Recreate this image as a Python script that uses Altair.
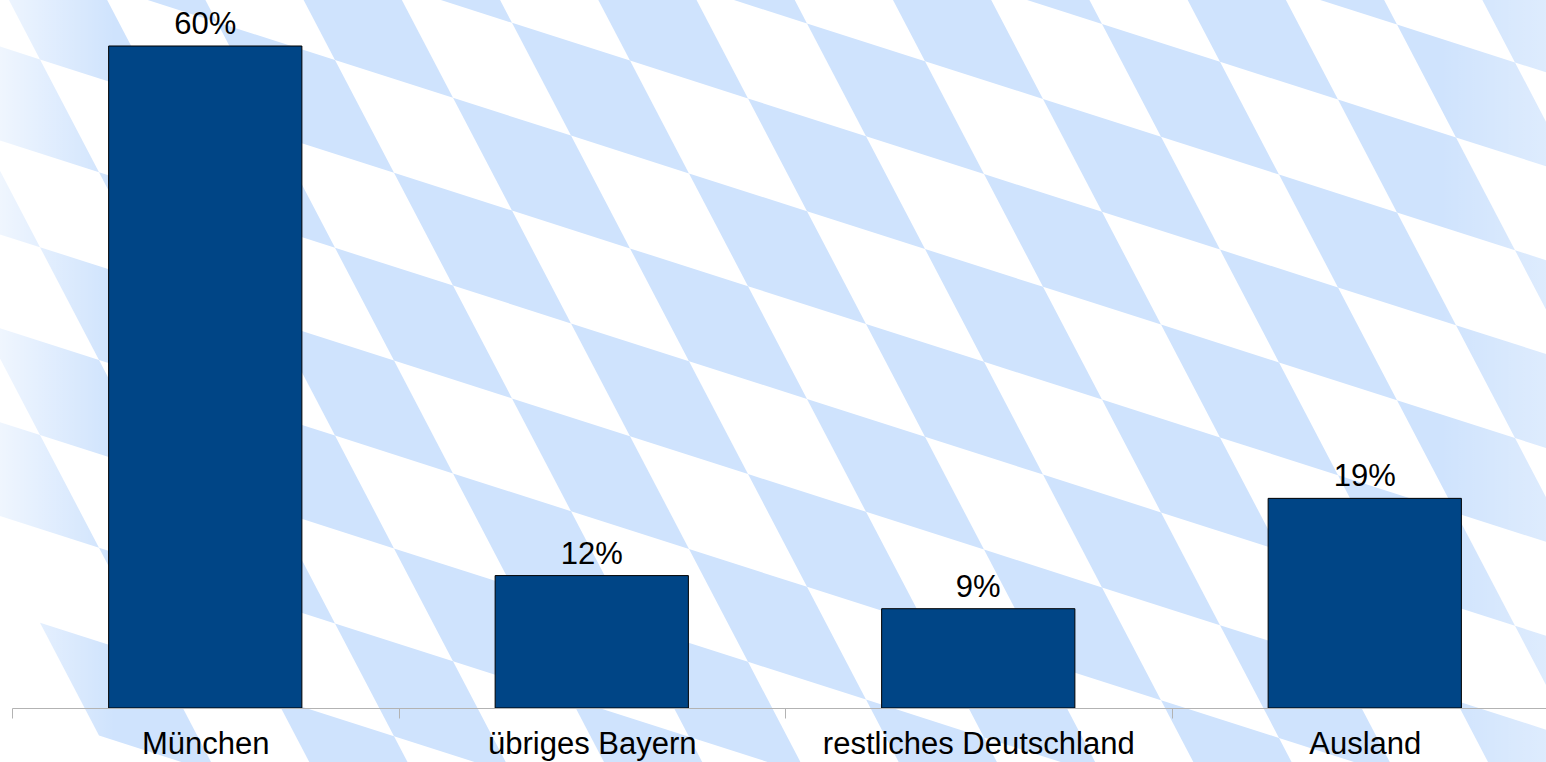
import altair as alt
import numpy as np
import pandas as pd

# ---- data ----
regions = ["München", "übriges Bayern", "restliches Deutschland", "Ausland"]
shares = [60, 12, 9, 19]
share_labels = ["60%", "12%", "9%", "19%"]

df = pd.DataFrame({"region": regions, "share": shares, "label": share_labels})

# ---- decorative background (Bavarian lozenges), page pixel space ----
LOZ_ORIGIN = (335.0, 60.0)
LOZ_A = (118.0, 37.8)
LOZ_B = (59.0, 112.8)
BLUE_LIGHT = "#cfe3fd"

cells = []
for i in range(-6, 22):
    for j in range(-6, 12):
        if (i + j) % 2 == 0:
            continue
        cx = LOZ_ORIGIN[0] + (i + 0.5) * LOZ_A[0] + (j + 0.5) * LOZ_B[0]
        cy = LOZ_ORIGIN[1] + (i + 0.5) * LOZ_A[1] + (j + 0.5) * LOZ_B[1]
        if -200 < cx < 1750 and -200 < cy < 960:
            cells.append((cx, cy))
bg_df = pd.DataFrame(cells, columns=["px", "py"])

S = 100.0
hx, hy = (LOZ_A[0] + LOZ_B[0]) / 2 / S, (LOZ_A[1] + LOZ_B[1]) / 2 / S
kx, ky = (LOZ_A[0] - LOZ_B[0]) / 2 / S, (LOZ_A[1] - LOZ_B[1]) / 2 / S
loz_path = (f"M{-hx:.4f},{-hy:.4f}L{kx:.4f},{ky:.4f}"
            f"L{hx:.4f},{hy:.4f}L{-kx:.4f},{-ky:.4f}Z")

px_scale = alt.Scale(domain=[12, 1546], zero=False, nice=False)
py_scale = alt.Scale(domain=[46, 708], reverse=True, zero=False, nice=False)

bg = alt.Chart(bg_df).mark_point(
    shape=loz_path, size=(2 * S) ** 2, filled=True, color=BLUE_LIGHT,
    opacity=1, strokeWidth=0
).encode(
    x=alt.X("px:Q", scale=px_scale, axis=None),
    y=alt.Y("py:Q", scale=py_scale, axis=None),
)

fade_left_df = pd.DataFrame({"x0": [-5], "x1": [115], "y0": [-20], "y1": [800]})
fade_right_df = pd.DataFrame({"x0": [1440], "x1": [1560], "y0": [-20], "y1": [800]})

fade_left = alt.Chart(fade_left_df).mark_rect(
    color=alt.Gradient(
        gradient="linear", x1=0, x2=1, y1=0, y2=0,
        stops=[alt.GradientStop(offset=0, color="rgba(255,255,255,0.7)"),
               alt.GradientStop(offset=1, color="rgba(255,255,255,0)")])
).encode(
    x=alt.X("x0:Q", scale=px_scale, axis=None), x2="x1:Q",
    y=alt.Y("y0:Q", scale=py_scale, axis=None), y2="y1:Q",
)

fade_right = alt.Chart(fade_right_df).mark_rect(
    color=alt.Gradient(
        gradient="linear", x1=0, x2=1, y1=0, y2=0,
        stops=[alt.GradientStop(offset=0, color="rgba(255,255,255,0)"),
               alt.GradientStop(offset=1, color="rgba(255,255,255,0.35)")])
).encode(
    x=alt.X("x0:Q", scale=px_scale, axis=None), x2="x1:Q",
    y=alt.Y("y0:Q", scale=py_scale, axis=None), y2="y1:Q",
)

# ---- bars ----
X_RANGE = [0, 1546]
half_step = (X_RANGE[1] - X_RANGE[0]) / len(regions) / 2

x_scale = alt.Scale(range=X_RANGE, paddingInner=0.5, paddingOuter=0.25)
y_scale = alt.Scale(domain=[0, 60], nice=False, zero=True)

bars = alt.Chart(df).mark_bar(
    color="#004586", stroke="#000000", strokeWidth=1
).encode(
    x=alt.X("region:N", sort=regions, scale=x_scale,
            axis=alt.Axis(title=None, labelAngle=0, labelFont="Liberation Sans",
                          labelFontSize=31, labelColor="#000000",
                          labelPadding=11, labelLimit=600,
                          domainColor="#b3b3b3", tickColor="#b3b3b3",
                          tickSize=10, tickOffset=-half_step,
                          labelOffset=half_step, grid=False,
                          zindex=1)),
    y=alt.Y("share:Q", scale=y_scale, axis=None),
)

texts = alt.Chart(df).mark_text(
    font="Liberation Sans", fontSize=31, color="#000000",
    baseline="alphabetic", dy=-12
).encode(
    x=alt.X("region:N", sort=regions, scale=x_scale, axis=None),
    y=alt.Y("share:Q", scale=y_scale, axis=None),
    text="label:N",
)

chart = alt.layer(bg, fade_left, fade_right, bars, texts).resolve_scale(
    x="independent", y="independent"
).properties(
    width=1534, height=662,
    autosize=alt.AutoSizeParams(type="none"),
    padding={"left": 12, "top": 46, "right": 0, "bottom": 54},
    background="white",
).configure_view(strokeWidth=0)

chart.save("out.html", embed_options={"renderer": "svg", "actions": False})
